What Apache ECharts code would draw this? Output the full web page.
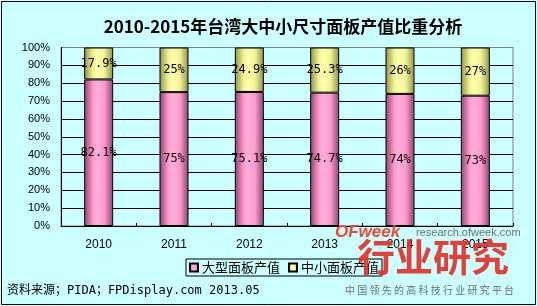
<!DOCTYPE html>
<html>
<head>
<meta charset="utf-8">
<script src="https://cdn.jsdelivr.net/npm/echarts@6/dist/echarts.min.js"></script>
<style>
html,body{margin:0;padding:0;background:#CCFFFF;}
#c{width:537px;height:306px;}
</style>
</head>
<body>
<div id="c"></div>
<script>
var titleText = '2010-2015年台湾大中小尺寸面板产值比重分析';
var categories = ['2010', '2011', '2012', '2013', '2014', '2015'];
var seriesNames = ['大型面板产值', '中小面板产值'];
var largeValues = [82.1, 75, 75.1, 74.7, 74, 73];
var smallValues = [17.9, 25, 24.9, 25.3, 26, 27];
var sourceText = '资料来源；PIDA；FPDisplay.com 2013.05';

var chart = echarts.init(document.getElementById('c'), null, {renderer: 'canvas'});

function hGrad(edge, mid, hi) {
  return new echarts.graphic.LinearGradient(0, 0, 1, 0, [
    {offset: 0, color: edge},
    {offset: 0.3, color: mid},
    {offset: 0.45, color: hi},
    {offset: 0.7, color: mid},
    {offset: 1, color: edge}
  ]);
}
var pinkFill = hGrad('#8a4470', '#FF99CC', '#FFB0D8');
var yellowFill = hGrad('#8f8f50', '#F2F293', '#FFFFB0');

var labelCfg = {
  show: true,
  position: 'inside',
  color: '#000',
  fontSize: 12,
  fontFamily: '"DejaVu Sans Mono", monospace',
  formatter: '{c}%'
};

chart.setOption({
  backgroundColor: '#CCFFFF',
  animation: false,
  title: {
    text: titleText,
    left: 278,
    textAlign: 'center',
    top: 13,
    textStyle: {fontSize: 17, fontWeight: 'bold', color: '#000', fontFamily: '"Noto Sans CJK SC", sans-serif'}
  },
  grid: {
    left: 61, right: 24, top: 47.5, bottom: 80,
    show: true, borderColor: '#808080', borderWidth: 1, backgroundColor: 'transparent'
  },
  legend: {
    data: seriesNames,
    left: 186, top: 259,
    orient: 'horizontal',
    icon: 'rect',
    itemWidth: 8, itemHeight: 8, itemGap: 8,
    padding: [2, 3, 2, 3],
    borderColor: '#000', borderWidth: 1,
    backgroundColor: 'transparent',
    textStyle: {fontSize: 13, color: '#000', fontFamily: '"Noto Sans CJK SC", sans-serif', padding: [0, 0, 0, -1]}
  },
  xAxis: {
    type: 'category',
    data: categories,
    axisLine: {lineStyle: {color: '#000', width: 1}},
    axisTick: {show: true, inside: true, length: 3, lineStyle: {color: '#000'}},
    axisLabel: {color: '#000', fontSize: 12, margin: 13, fontFamily: '"Liberation Sans", Arial, sans-serif'}
  },
  yAxis: {
    type: 'value',
    min: 0, max: 100, interval: 10,
    axisLine: {show: true, lineStyle: {color: '#000', width: 1}},
    axisTick: {show: false},
    axisLabel: {formatter: '{value}%', color: '#000', fontSize: 11, margin: 11, fontFamily: '"Liberation Sans", Arial, sans-serif'},
    splitLine: {show: true, showMaxLine: false, lineStyle: {color: '#000', width: 1}}
  },
  series: [
    {
      name: seriesNames[0], type: 'bar', stack: 'total', data: largeValues,
      barWidth: 29,
      itemStyle: {color: pinkFill, borderColor: '#000', borderWidth: 1},
      label: labelCfg
    },
    {
      name: seriesNames[1], type: 'bar', stack: 'total', data: smallValues,
      barWidth: 29,
      itemStyle: {color: yellowFill, borderColor: '#000', borderWidth: 1},
      label: labelCfg
    }
  ],
  graphic: [
    {type: 'rect', shape: {x: 1.5, y: 1.5, width: 534, height: 303}, style: {fill: 'none', stroke: '#000', lineWidth: 1}, z: 100, silent: true},
    {type: 'text', left: 7, top: 285, style: {text: sourceText, fontSize: 12, fill: '#000', fontFamily: '"DejaVu Sans Mono", "Noto Sans CJK SC", monospace'}, z: 100},
    {type: 'text', left: 335, top: 224, style: {text: 'OFweek', fill: '#E84A3A', fontSize: 17, fontWeight: 'bold', fontStyle: 'italic', fontFamily: '"Liberation Sans", Arial, sans-serif'}, z: 100},
    {type: 'text', left: 416, top: 227, style: {text: 'research.ofweek.com', fill: '#707070', fontSize: 11, fontFamily: '"Liberation Sans", Arial, sans-serif'}, z: 100},
    {type: 'text', left: 357, top: 238, style: {text: '行业研究', fill: 'rgba(228,48,40,0.92)', fontSize: 38, fontWeight: 'bold', fontFamily: '"Noto Sans CJK SC", sans-serif'}, z: 100},
    {type: 'text', left: 345, top: 285, style: {text: '中 国 领 先 的 高 科 技 行 业 研 究 平 台', fill: '#707070', fontSize: 10, fontFamily: '"Noto Sans CJK SC", sans-serif'}, z: 100}
  ]
});
</script>
</body>
</html>
